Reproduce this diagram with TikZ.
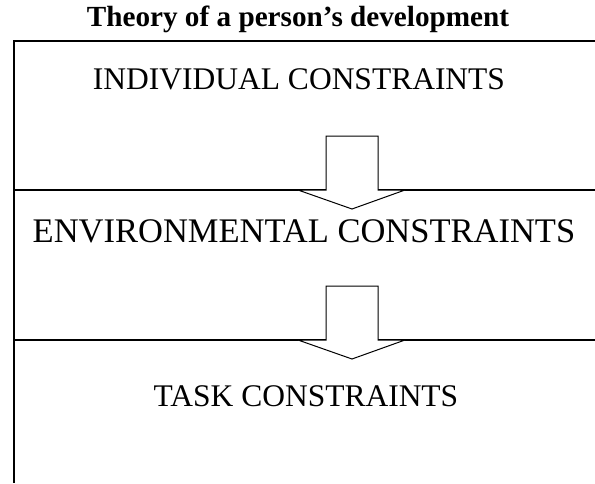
\documentclass[tikz,border=0pt]{standalone}
\usepackage{fontspec}
\setmainfont{Liberation Serif}

\tikzset{
  frameline/.style={line width=2pt, black},
  blockarrow/.style={fill=white, draw=black, line width=1pt, line join=miter},
  level/.style={anchor=base, font=\fontsize{31.5}{36}\selectfont}
}

\begin{document}
\begin{tikzpicture}[x=1pt, y=-1pt]

  \useasboundingbox (0,0) rectangle (595,483);

  % Title
  \draw (298,26) node[anchor=base, font=\fontsize{29.2}{34}\selectfont\bfseries] (title) {Theory of a person’s development};

  % Frame
  \draw[frameline] (595,41) -- (14,41) -- (14,483);
  \draw[frameline] (14,190) -- (595,190);
  \draw[frameline] (14,340) -- (595,340);

  % Levels
  \draw (299,89) node[level] (individual) {INDIVIDUAL CONSTRAINTS};
  \draw (304,242) node[level, font=\fontsize{34.5}{40}\selectfont] (environmental) {ENVIRONMENTAL CONSTRAINTS};
  \draw (306,406) node[level] (task) {TASK CONSTRAINTS};

  % Arrows
  \draw[blockarrow] (326,136) -- (378,136) -- (378,190) -- (405,190) -- (352,209) -- (298,190) -- (326,190) -- cycle;
  \draw[blockarrow] (326,286) -- (378,286) -- (378,340) -- (405,340) -- (352,359) -- (298,340) -- (326,340) -- cycle;

\end{tikzpicture}
\end{document}
